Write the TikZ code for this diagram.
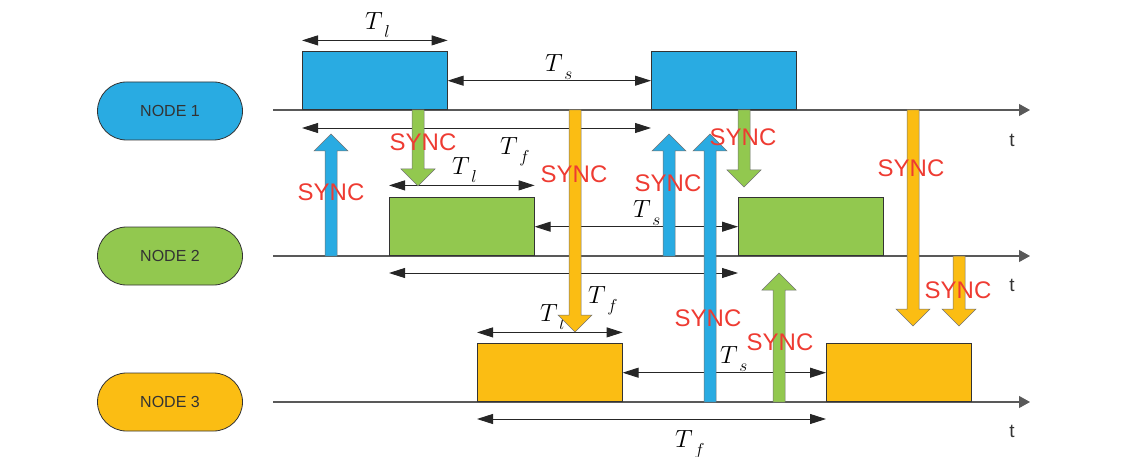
\documentclass[tikz,border=0pt]{standalone}
\usepackage{fontspec}
\setmainfont{Liberation Serif}
\setsansfont{Liberation Sans}
\usetikzlibrary{arrows.meta,calc}
\definecolor{cblue}{HTML}{29ABE2}
\definecolor{cgreen}{HTML}{92C84F}
\definecolor{corange}{HTML}{FBBD13}
\definecolor{syncred}{HTML}{EE3B32}
\newcommand\Tlab[1]{$T$\kern1.5pt\raisebox{-8pt}{\fontsize{17}{17}\selectfont$#1$}}
\newcommand\syncarr[5]{% name, x, y start, y tip, color
  \pgfmathsetmacro\hb{#4>#3 ? #4-17 : #4+17}
  \coordinate (#1s) at (#2,#3);
  \coordinate (#1t) at (#2,#4);
  \draw[fatarrow, fill=#5] ($(#1s)+(-6,0)$) -- (#2-6,\hb) -- (#2-17,\hb) -- (#1t) -- (#2+17,\hb) -- (#2+6,\hb) -- ($(#1s)+(6,0)$) -- cycle;}
\begin{document}
\begin{tikzpicture}[x=1pt,y=-1pt,
  nodepill/.style={draw=black!80, line width=0.8pt, rounded corners=29pt, minimum width=145pt, minimum height=58pt, inner sep=0pt, font=\sffamily\fontsize{16}{16}\selectfont, text=black!80},
  slot/.style={draw=black!80, line width=0.6pt, minimum width=145pt, minimum height=58pt, inner sep=0pt, anchor=south west},
  axis/.style={draw=black!65, line width=1.1pt, -{Triangle[length=11pt,width=12pt]}},
  dim/.style={draw=black!85, line width=0.9pt, {Triangle[length=16pt,width=10pt]}-{Triangle[length=16pt,width=10pt]}},
  fatarrow/.style={draw=black!55, line width=0.5pt},
  tlab/.style={font=\fontsize{26}{26}\selectfont, inner sep=0pt, anchor=base west},
  synclab/.style={font=\sffamily\fontsize{24}{24}\selectfont, text=syncred, inner sep=0pt},
  tax/.style={font=\sffamily\fontsize{19}{19}\selectfont, text=black!80, inner sep=0pt}]
\useasboundingbox (0,0) rectangle (1142,457);
% node pills
\node[nodepill, fill=cblue] (n1) at (170,111) {NODE 1};
\node[nodepill, fill=cgreen] (n2) at (170,256) {NODE 2};
\node[nodepill, fill=corange] (n3) at (170,402) {NODE 3};
% axes
\coordinate (a1s) at (273,110); \coordinate (a1e) at (1030,110);
\coordinate (a2s) at (273,256); \coordinate (a2e) at (1030,256);
\coordinate (a3s) at (273,402); \coordinate (a3e) at (1030,402);
\draw[axis] (a1s) -- (a1e);
\draw[axis] (a2s) -- (a2e);
\draw[axis] (a3s) -- (a3e);
\node[tax] (t1) at (1012,140) {t};
\node[tax] (t2) at (1012,285) {t};
\node[tax] (t3) at (1012,431) {t};
% slots
\node[slot, fill=cblue] (b1a) at (302,110) {};
\node[slot, fill=cblue] (b1b) at (651,110) {};
\node[slot, fill=cgreen] (b2a) at (389,256) {};
\node[slot, fill=cgreen] (b2b) at (738,256) {};
\node[slot, fill=corange] (b3a) at (477,402) {};
\node[slot, fill=corange] (b3b) at (826,402) {};
% dimension arrows node 1
\draw[dim] ($(b1a.north west)+(0,-11)$) -- ($(b1a.north east)+(0,-11)$);
\draw[dim] (b1a.east) -- (b1b.west);
\draw[dim] ($(b1a.south west)+(0,18)$) -- ($(b1b.south west)+(0,18)$);
% dimension arrows node 2
\draw[dim] ($(b2a.north west)+(0,-12)$) -- ($(b2a.north east)+(0,-12)$);
\draw[dim] (b2a.east) -- (b2b.west);
\draw[dim] ($(b2a.south west)+(0,17)$) -- ($(b2b.south west)+(0,17)$);
% dimension arrows node 3
\draw[dim] ($(b3a.north west)+(0,-11)$) -- ($(b3a.north east)+(0,-11)$);
\draw[dim] (b3a.east) -- (b3b.west);
\draw[dim] ($(b3a.south west)+(0,17)$) -- ($(b3b.south west)+(0,17)$);
% T labels
\node[tlab] (l1l) at (365,30) {\Tlab{l}};
\node[tlab] (l1s) at (545,72) {\Tlab{s}};
\node[tlab] (l1f) at (500,155) {\Tlab{f}};
\node[tlab] (l2l) at (452,175) {\Tlab{l}};
\node[tlab] (l2s) at (633,217) {\Tlab{s}};
\node[tlab] (l2f) at (588,303) {\Tlab{f}};
\node[tlab] (l3l) at (540,321) {\Tlab{l}};
\node[tlab] (l3s) at (720,363) {\Tlab{s}};
\node[tlab] (l3f) at (675,447) {\Tlab{f}};
% sync arrows
\syncarr{s1}{331}{256}{134}{cblue}
\syncarr{s2}{418}{110}{186}{cgreen}
\syncarr{s3}{575}{110}{332}{corange}
\syncarr{s4}{669}{256}{134}{cblue}
\syncarr{s5}{710}{402}{134}{cblue}
\syncarr{s6}{744}{110}{187}{cgreen}
\syncarr{s7}{779}{402}{273}{cgreen}
\syncarr{s8}{913}{110}{326}{corange}
\syncarr{s9}{959}{256}{326}{corange}
% sync labels
\node[synclab] (y1) at (331,192) {SYNC};
\node[synclab] (y2) at (423,142) {SYNC};
\node[synclab] (y3) at (574,174) {SYNC};
\node[synclab] (y4) at (668,183) {SYNC};
\node[synclab] (y5) at (708,318) {SYNC};
\node[synclab] (y6) at (743,137) {SYNC};
\node[synclab] (y7) at (780,342) {SYNC};
\node[synclab] (y8) at (911,168) {SYNC};
\node[synclab] (y9) at (958,290) {SYNC};
\end{tikzpicture}
\end{document}
